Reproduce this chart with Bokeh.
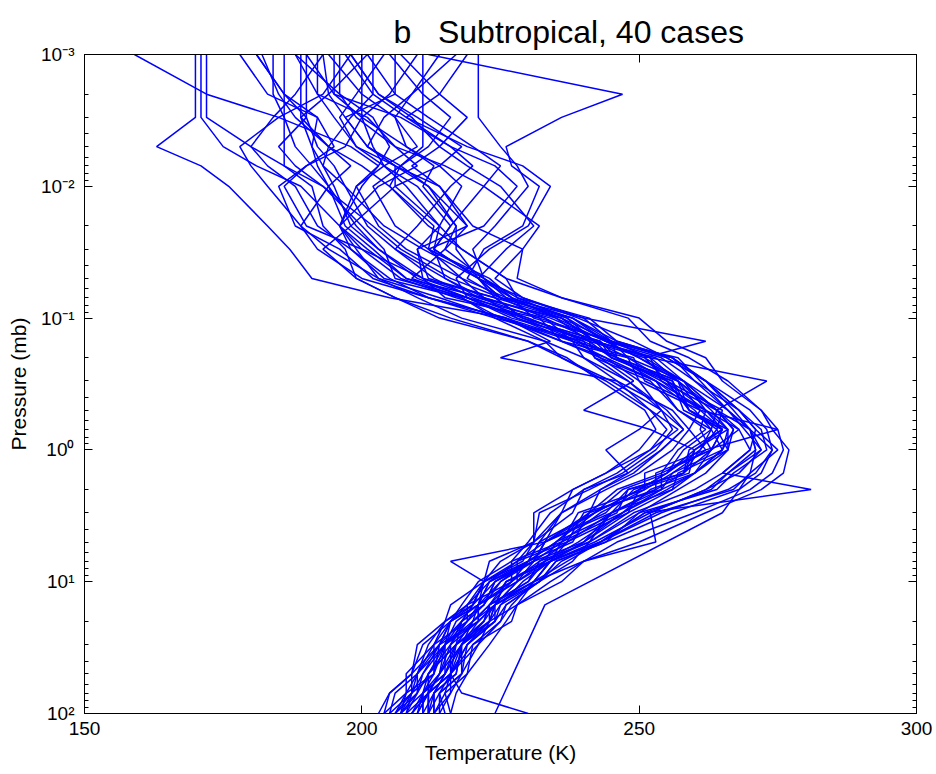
from bokeh.plotting import figure
from bokeh.models import Range1d, LogAxis, LinearAxis, FixedTicker, CustomJSTickFormatter
from bokeh.embed import file_html
from bokeh.resources import INLINE

# Pressure levels (mb), bottom to top
pressure = [100, 70, 50, 30, 20, 15, 10, 7, 5, 3, 2, 1.5, 1, 0.7, 0.5, 0.3, 0.2, 0.15,
            0.1, 0.07, 0.05, 0.03, 0.02, 0.01, 0.007, 0.005, 0.003, 0.002, 0.001]

# Temperature profiles (K), one per case, at the pressure levels above (None = missing)
t01 = [208, 209, 213, 214, 221, 221, 228, 228, 237, 240, 254, 254, 263, 265, 261, 257, 246, 243, 229, 224, 211, 203, 199, 194, 191, 188, 186, 184, 184]
t02 = [205, 206, 210, 212, 215, 219, 222, 225, 231, 232, 241, 247, 253, 256, 254, 245, 236, 233, 224, 212, 205, 198, 196, 200, 203, 198, 185, 172, 159]
t03 = [212, 212, 216, 218, 222, 223, 230, 232, 241, 249, 260, 265, 270, 268, 264, 257, 252, 242, 237, 225, 221, 213, 214, 206, 206, 201, 197, 206, 206]
t04 = [213, 215, 216, 220, 225, 226, 232, 236, 243, 254, 266, 271, 274, 273, 270, 262, 256, 246, 238, 225, 216, 207, 202, 193, 186, 180, 172, 172, 172]
t05 = [207, 210, 211, 215, 217, 221, 223, 230, 232, 242, 247, 255, 258, 263, 257, 253, 243, 239, 226, 205, 191, 187, 183, 176, 171, 163, 170, 170, 170]
t06 = [210, 211, 215, 215, 221, 224, 226, 234, 237, 248, 250, 259, 260, 265, 259, 257, 246, 245, 231, 227, 221, 217, 217, 212, 206, 201, 197, 194, 193]
t07 = [204, 205, 209, 211, 216, 218, 221, 227, 230, 234, 240, 246, 252, 255, 252, 244, 236, 230, 214, 206, 199, 197, 193, 191, 186, 186, 186, 186, 186]
t08 = [216, 217, 219, 223, 226, 228, 234, 240, 246, 260, 270, 274, 276, 275, 272, 266, 259, 252, 248, 236, 226, 218, 214, 208, 204, 202, 200, 200, 200]
t09 = [209, 212, 212, 217, 220, 223, 226, 233, 235, 246, 248, 258, 261, 264, 259, 255, 245, 241, 230, 220, 213, 206, 201, 197, 195, 192, 190, 190, 190]
t10 = [224, None, None, None, None, 233, None, None, None, 265, 268, 270, 271, 270, 266, 258, 250, 244, 234, 222, 215, 213, 216, 210, 204, 199, 196, 199, 204]
t11 = [230, 218, 216, 219, 224, 226, 232, 238, 241, 250, 257, 262, 266, 266, 262, 253, 244, 236, 225, 214, 203, 194, 189, 183, 180, 178, 185, 193, 198]
t12 = [206, 209, 210, 214, 216, 220, 222, 228, 231, 236, 243, 249, 254, 258, 254, 248, 240, 238, 225, 218, 208, 202, 197, 194, 192, 191, 192, 186, 181]
t13 = [213, 213, 217, 218, 223, 224, 231, 234, 242, 252, 262, 268, 272, 269, 266, 260, 254, 244, 237, 228, 222, 215, 217, 211, 213, 208, 206, 209, 214]
t14 = [214, 216, 218, 221, 225, 227, 231, 237, 243, 251, 281, 265, 270, 271, 268, 262, 255, 249, 239, 229, 221, 226, 231, 225, 219, 214, 209, 203, 198]
t15 = [208, 210, 212, 215, 219, 221, 225, 231, 236, 243, 251, 256, 262, 275, 261, 254, 246, 240, 230, 217, 207, 200, 196, 203, 210, 206, 201, 192, 188]
t16 = [210, 212, 214, 216, 219, 222, 225, 230, 235, 241, 243, 248, 244, 250, 254, 250, 244, 238, 228, 219, 210, 203, 198, 195, 193, 191, 189, 194, 201]
t17 = [211, 213, 215, 218, 221, 224, 228, 233, 239, 247, 254, 260, 265, 267, 264, 273, 252, 245, 236, 226, 218, 212, 222, 228, 224, 216, 208, 202, 197]
t18 = [207, 209, 211, 214, 218, 220, 224, 230, 235, 242, 250, 255, 260, 252, 240, 249, 243, 236, 226, 212, 202, 196, 188, 185, 190, 195, 192, 183, 178]
t19 = [212, 213, 215, 218, 222, 224, 228, 234, 240, 248, 256, 260, 266, 267, 264, 258, 251, 262, 240, 229, 224, 229, 220, 214, 209, 214, 219, 214, 207]
t20 = [206, 208, 210, 213, 216, 219, 223, 228, 233, 236, 244, 250, 256, 259, 256, 246, 225, 234, 226, 212, 200, 192, 189, 194, 198, 194, 188, 185, 182]
t21 = [209, 211, 213, 215, 218, 220, 222, 216, 233, 242, 250, 255, 261, 263, 260, 253, 246, 239, 229, 219, 209, 215, 219, 214, 206, 199, 195, 192, 192]
t22 = [213, 216, 216, 221, 223, 228, 231, 240, 253, 252, 262, 266, 272, 270, 267, 262, 256, 245, 240, 226, 222, 212, 213, 205, 207, 201, 204, 209, 217]
t23 = [210, 212, 214, 217, 220, 223, 227, 232, 237, 245, 253, 258, 263, 265, 262, 255, 248, 242, 233, 225, 219, 222, 229, 232, 227, 226, 236, 247, 212]
t24 = [212, 214, 216, 219, 223, 225, 229, 234, 240, 247, 255, 260, 265, 266, 263, 257, 250, 244, 235, 227, 222, 220, 224, 230, 228, 225, 221, 221, 221]
t25 = [207, 208, 213, 213, 219, 219, 227, 227, 236, 239, 251, 251, 262, 259, 261, 250, 248, 236, 232, 215, 211, 210, 219, 212, 207, 211, 211, 211, 211]
t26 = [203, 205, 209, 210, 215, 216, 222, 223, 231, 231, 238, 244, 250, 253, 251, 243, 237, 230, 216, 206, 199, 193, 198, 206, 214, 218, 210, 203, 198]
t27 = [216, 215, 219, 220, 227, 228, 236, 240, 250, 262, 272, 276, 277, 274, 272, 265, 262, 255, 250, 236, 228, 229, 232, 222, 215, 206, 199, 196, 196]
t28 = [209, 212, 214, 218, 220, 224, 226, 234, 236, 247, 252, 260, 263, 268, 262, 258, 248, 245, 232, 221, 211, 200, 190, 186, 190, 197, 200, 205, 210]
t29 = [212, 212, 216, 216, 221, 221, 227, 230, 238, 241, 253, 253, 263, 261, 262, 251, 249, 238, 233, 219, 217, 223, 230, 234, 229, 219, 208, 214, 219]
t30 = [205, 209, 209, 214, 216, 221, 223, 231, 233, 241, 246, 254, 257, 262, 257, 252, 242, 240, 224, 218, 204, 198, 192, 188, 183, 180, 184, 188, 193]
t31 = [211, 211, 214, 215, 220, 221, 228, 231, 240, 245, 256, 257, 266, 264, 265, 255, 251, 241, 235, 222, 218, 208, 203, 199, 204, 210, 206, 200, 194]
t32 = [215, 214, 218, 218, 223, 223, 231, 234, 243, 251, 263, 266, 271, 270, 264, 258, 253, 242, 236, 221, 215, 206, 210, 216, 220, 216, 207, 195, 190]
t33 = [204, 208, 208, 213, 215, 220, 222, 229, 231, 238, 240, 248, 254, 258, 255, 248, 242, 241, 228, 222, 208, 201, 196, 199, 203, 205, 202, 196, 188]
t34 = [213, 213, 217, 218, 224, 225, 232, 235, 244, 256, 268, 272, 274, 270, 266, 261, 257, 244, 238, 225, 221, 213, 216, 222, 225, 220, 212, 206, 201]
t35 = [207, 211, 212, 216, 218, 222, 224, 231, 233, 244, 248, 258, 259, 265, 258, 256, 245, 242, 227, 219, 206, 204, 200, 193, 188, 185, 190, 186, 181]
t36 = [211, 211, 215, 217, 222, 223, 230, 233, 241, 245, 254, 256, 265, 263, 264, 254, 252, 242, 236, 224, 221, 211, 204, 197, 193, 194, 198, 202, 202]
t37 = [206, 210, 210, 215, 216, 221, 222, 230, 232, 236, 238, 244, 252, 257, 252, 246, 240, 233, 218, 210, 203, 199, 196, 189, 181, 175, 171, 171, 171]
t38 = [212, 212, 216, 217, 223, 224, 231, 234, 243, 253, 267, 270, 275, 271, 268, 260, 256, 246, 241, 228, 226, 218, 212, 205, 200, 194, 189, 189, 189]
t39 = [208, 212, 212, 217, 218, 222, 224, 231, 233, 245, 249, 258, 260, 266, 259, 256, 245, 243, 229, 224, 212, 210, 214, 218, 214, 208, 200, 195, 195]
t40 = [214, 214, 218, 219, 224, 224, 232, 235, 244, 250, 264, 267, 273, 272, 268, 262, 255, 245, 238, 227, 223, 212, 206, 202, 207, 212, 216, 211, 205]

profiles = [t01, t02, t03, t04, t05, t06, t07, t08, t09, t10,
            t11, t12, t13, t14, t15, t16, t17, t18, t19, t20,
            t21, t22, t23, t24, t25, t26, t27, t28, t29, t30,
            t31, t32, t33, t34, t35, t36, t37, t38, t39, t40]

x_ticks = [150, 200, 250, 300]
y_ticks = [0.001, 0.01, 0.1, 1, 10, 100]
y_minor = [m * d for d in (0.001, 0.01, 0.1, 1, 10) for m in range(2, 10)]

title_text = "b\u00a0\u00a0\u00a0Subtropical, 40 cases"
x_label = "Temperature (K)"
y_label = "Pressure (mb)"

FONT = "Liberation Sans"

p = figure(frame_width=832, frame_height=659,
           x_range=Range1d(150, 300), y_range=Range1d(100, 0.001),
           y_axis_type="log", output_backend="svg", toolbar_location=None,
           min_border_left=84, min_border_right=20, min_border_top=54, min_border_bottom=61,
           title=title_text)

p.title.text_font = FONT
p.title.text_font_size = "32px"
p.title.text_font_style = "normal"
p.title.align = "left"
p.title.offset = 309
p.title.text_color = "black"

p.grid.visible = False
p.outline_line_color = "black"
p.background_fill_color = "white"
p.border_fill_color = "white"

xs, ys = [], []
for prof in profiles:
    pts = [(t, pr) for t, pr in zip(prof, pressure) if t is not None]
    xs.append([a for a, _ in pts])
    ys.append([b for _, b in pts])
p.multi_line(xs, ys, line_color="#0000ff", line_width=1.5)

sup_fmt = CustomJSTickFormatter(code="""
const e = Math.round(Math.log10(tick));
const sup = {"-": "\u207b", "0": "\u2070", "1": "\u00b9", "2": "\u00b2", "3": "\u00b3"};
return "10" + String(e).split("").map(c => sup[c]).join("");
""")
blank = CustomJSTickFormatter(code="return '';")

def style(ax):
    ax.axis_line_color = "black"
    ax.major_tick_line_color = "black"
    ax.minor_tick_line_color = "black"
    ax.major_tick_in = 8
    ax.major_tick_out = 0
    ax.minor_tick_in = 4
    ax.minor_tick_out = 0
    ax.major_label_text_font = FONT
    ax.major_label_text_font_size = "19px"
    ax.major_label_text_color = "black"
    ax.axis_label_text_font = FONT
    ax.axis_label_text_font_size = "21px"
    ax.axis_label_text_font_style = "normal"
    ax.axis_label_text_color = "black"

xb = p.below[0]
xb.ticker = FixedTicker(ticks=x_ticks)
xb.axis_label = x_label
style(xb)
xb.minor_tick_line_color = None
xb.major_label_standoff = 8
xb.axis_label_standoff = 3

yl = p.left[0]
yl.ticker = FixedTicker(ticks=y_ticks, minor_ticks=y_minor)
yl.formatter = sup_fmt
yl.axis_label = y_label
style(yl)
yl.major_label_standoff = 10
yl.axis_label_standoff = 8

xt = LinearAxis(ticker=FixedTicker(ticks=x_ticks), formatter=blank)
style(xt)
xt.minor_tick_line_color = None
xt.major_label_standoff = 0
p.add_layout(xt, "above")

yr = LogAxis(ticker=FixedTicker(ticks=y_ticks, minor_ticks=y_minor), formatter=blank)
style(yr)
yr.major_label_standoff = 0
p.add_layout(yr, "right")

open("out.html", "w").write(file_html(p, INLINE))
